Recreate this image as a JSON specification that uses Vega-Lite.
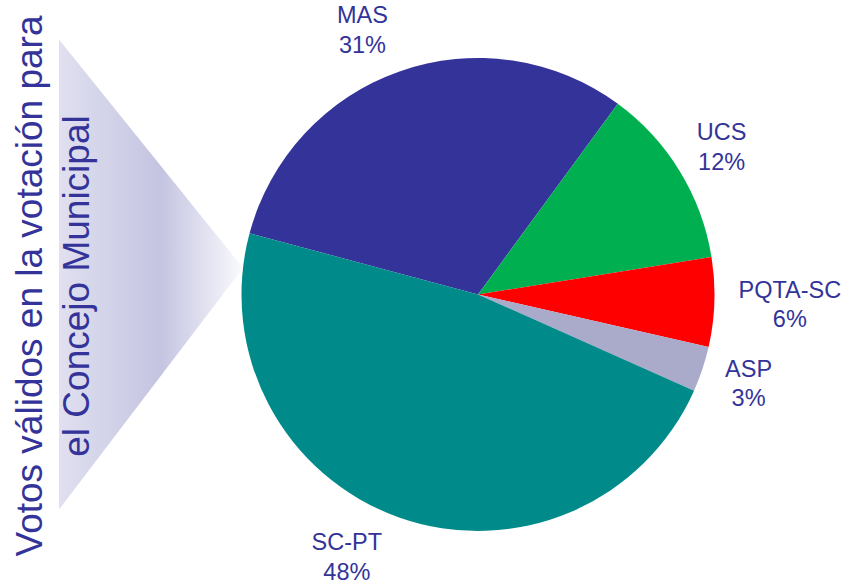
{
  "$schema": "https://vega.github.io/schema/vega-lite/v6.json",
  "width": 850,
  "height": 583,
  "autosize": "none",
  "padding": 0,
  "background": "white",
  "config": {"view": {"stroke": null}, "text": {"font": "Liberation Sans"}},
  "datasets": {
    "votes": [
      {"rank": 1, "party": "MAS", "share": 30.9, "label": "MAS\n31%"},
      {"rank": 2, "party": "UCS", "share": 12.4, "label": "UCS\n12%"},
      {"rank": 3, "party": "PQTA-SC", "share": 6.1, "label": "PQTA-SC\n6%"},
      {"rank": 4, "party": "ASP", "share": 3.1, "label": "ASP\n3%"},
      {"rank": 5, "party": "SC-PT", "share": 47.5, "label": "SC-PT\n48%"}
    ],
    "heading": [{"text": "Votos válidos en la votación para\nel Concejo Municipal"}]
  },
  "layer": [
    {
      "data": {"name": "heading"},
      "mark": {
        "type": "point",
        "shape": "M-0.3915,-1L0.3915,-0.028L-0.3915,1Z",
        "size": 220900,
        "filled": true,
        "opacity": 1,
        "strokeWidth": 0,
        "fill": {
          "gradient": "linear",
          "x1": 0, "y1": 0, "x2": 1, "y2": 0,
          "stops": [
            {"offset": 0, "color": "#E0E0F0"},
            {"offset": 0.55, "color": "#C4C4E1"},
            {"offset": 1, "color": "#FAFAFD"}
          ]
        }
      },
      "encoding": {
        "x": {"datum": 151, "type": "quantitative", "scale": {"domain": [0, 850], "nice": false, "zero": false}, "axis": null},
        "y": {"datum": 274.5, "type": "quantitative", "scale": {"domain": [0, 583], "nice": false, "zero": false, "reverse": true}, "axis": null}
      }
    },
    {
      "data": {"name": "heading"},
      "mark": {
        "type": "text",
        "angle": 270,
        "align": "center",
        "baseline": "middle",
        "fontSize": 37,
        "lineHeight": 47,
        "lineBreak": "\n",
        "fill": "#333399",
        "font": "Liberation Sans"
      },
      "encoding": {
        "x": {"datum": 30.5, "type": "quantitative", "scale": {"domain": [0, 850], "nice": false, "zero": false}, "axis": null},
        "y": {"datum": 286, "type": "quantitative", "scale": {"domain": [0, 583], "nice": false, "zero": false, "reverse": true}, "axis": null},
        "text": {"field": "text", "type": "nominal"}
      }
    },
    {
      "data": {"name": "votes"},
      "encoding": {
        "x": {"datum": 478, "type": "quantitative", "scale": {"domain": [0, 850], "nice": false, "zero": false}, "axis": null},
        "y": {"datum": 294.5, "type": "quantitative", "scale": {"domain": [0, 583], "nice": false, "zero": false, "reverse": true}, "axis": null},
        "theta": {"field": "share", "type": "quantitative", "stack": true, "scale": {"domain": [0, 100], "range": [-1.309, 4.97419]}},
        "order": {"field": "rank", "type": "quantitative"}
      },
      "layer": [
        {
          "mark": {"type": "arc", "outerRadius": 236.5},
          "encoding": {
            "color": {
              "field": "party",
              "type": "nominal",
              "scale": {
                "domain": ["MAS", "UCS", "PQTA-SC", "ASP", "SC-PT"],
                "range": ["#333399", "#00B050", "#FF0000", "#AAAACB", "#008A8A"]
              },
              "legend": null
            }
          }
        },
        {
          "mark": {"type": "text", "radius": 282, "dx": 3, "dy": -14, "fontSize": 23.5, "lineHeight": 29.5, "lineBreak": "\n", "fill": "#333399", "align": "center", "baseline": "middle", "font": "Liberation Sans"},
          "encoding": {
            "detail": {"field": "party", "type": "nominal"},
            "text": {"condition": {"test": "datum.party === 'UCS' || datum.party === 'ASP'", "field": "label", "type": "nominal"}, "value": ""}
          }
        },
        {
          "mark": {"type": "text", "radius": 282, "dx": -22, "dy": -12, "fontSize": 23.5, "lineHeight": 29.5, "lineBreak": "\n", "fill": "#333399", "align": "center", "baseline": "middle", "font": "Liberation Sans"},
          "encoding": {
            "detail": {"field": "party", "type": "nominal"},
            "text": {"condition": {"test": "datum.party === 'MAS'", "field": "label", "type": "nominal"}, "value": ""}
          }
        },
        {
          "mark": {"type": "text", "radius": 282, "dx": 30, "dy": -13, "fontSize": 23.5, "lineHeight": 29.5, "lineBreak": "\n", "fill": "#333399", "align": "center", "baseline": "middle", "font": "Liberation Sans"},
          "encoding": {
            "detail": {"field": "party", "type": "nominal"},
            "text": {"condition": {"test": "datum.party === 'PQTA-SC'", "field": "label", "type": "nominal"}, "value": ""}
          }
        },
        {
          "mark": {"type": "text", "radius": 282, "dx": -37, "dy": -17, "fontSize": 23.5, "lineHeight": 29.5, "lineBreak": "\n", "fill": "#333399", "align": "center", "baseline": "middle", "font": "Liberation Sans"},
          "encoding": {
            "detail": {"field": "party", "type": "nominal"},
            "text": {"condition": {"test": "datum.party === 'SC-PT'", "field": "label", "type": "nominal"}, "value": ""}
          }
        }
      ]
    }
  ]
}
